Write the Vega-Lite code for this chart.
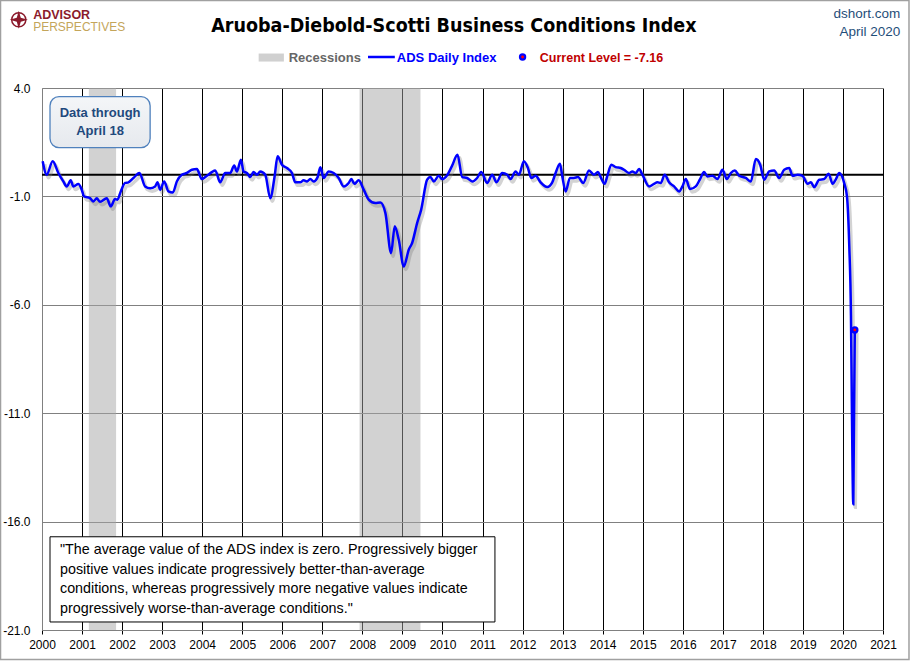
{
  "$schema": "https://vega.github.io/schema/vega-lite/v6.json",
  "width": 841,
  "height": 542,
  "autosize": "none",
  "padding": {"left": 42, "top": 88, "right": 27, "bottom": 31},
  "background": "white",
  "datasets": {
    "ads": [
      {"year": 2000.017, "value": 0.62}, {"year": 2000.117, "value": 0.0}, {"year": 2000.267, "value": 0.62},
      {"year": 2000.408, "value": 0.08}, {"year": 2000.533, "value": -0.31}, {"year": 2000.617, "value": -0.54},
      {"year": 2000.717, "value": -0.26}, {"year": 2000.783, "value": -0.54}, {"year": 2000.908, "value": -0.43},
      {"year": 2000.992, "value": -0.69}, {"year": 2001.05, "value": -1.0}, {"year": 2001.2, "value": -1.08},
      {"year": 2001.283, "value": -1.23}, {"year": 2001.367, "value": -1.09}, {"year": 2001.45, "value": -1.25},
      {"year": 2001.617, "value": -1.08}, {"year": 2001.717, "value": -1.46}, {"year": 2001.825, "value": -1.12},
      {"year": 2001.883, "value": -1.15}, {"year": 2001.967, "value": -0.77}, {"year": 2002.075, "value": -0.38},
      {"year": 2002.158, "value": -0.35}, {"year": 2002.283, "value": -0.15}, {"year": 2002.433, "value": 0.08},
      {"year": 2002.575, "value": -0.54}, {"year": 2002.7, "value": -0.62}, {"year": 2002.825, "value": -0.54},
      {"year": 2002.883, "value": -0.35}, {"year": 2002.95, "value": -0.69}, {"year": 2003.05, "value": -0.31},
      {"year": 2003.158, "value": -0.77}, {"year": 2003.267, "value": -0.82}, {"year": 2003.367, "value": -0.31},
      {"year": 2003.492, "value": 0.0}, {"year": 2003.617, "value": 0.08}, {"year": 2003.742, "value": 0.23},
      {"year": 2003.867, "value": 0.26}, {"year": 2003.992, "value": -0.2}, {"year": 2004.117, "value": -0.05},
      {"year": 2004.242, "value": 0.12}, {"year": 2004.325, "value": 0.2}, {"year": 2004.45, "value": -0.35},
      {"year": 2004.575, "value": 0.08}, {"year": 2004.7, "value": 0.08}, {"year": 2004.8, "value": 0.42},
      {"year": 2004.867, "value": 0.15}, {"year": 2004.967, "value": 0.69}, {"year": 2005.033, "value": 0.15},
      {"year": 2005.117, "value": 0.08}, {"year": 2005.2, "value": -0.11}, {"year": 2005.283, "value": 0.12},
      {"year": 2005.367, "value": 0.0}, {"year": 2005.45, "value": 0.15}, {"year": 2005.575, "value": 0.0},
      {"year": 2005.7, "value": -1.08}, {"year": 2005.808, "value": -0.08}, {"year": 2005.883, "value": 0.85},
      {"year": 2005.992, "value": 0.46}, {"year": 2006.117, "value": 0.31}, {"year": 2006.242, "value": 0.08},
      {"year": 2006.325, "value": -0.35}, {"year": 2006.45, "value": -0.35}, {"year": 2006.533, "value": -0.26},
      {"year": 2006.617, "value": -0.31}, {"year": 2006.7, "value": -0.2}, {"year": 2006.783, "value": -0.31},
      {"year": 2006.883, "value": -0.11}, {"year": 2006.95, "value": 0.35}, {"year": 2007.033, "value": -0.15},
      {"year": 2007.158, "value": 0.15}, {"year": 2007.283, "value": 0.08}, {"year": 2007.408, "value": -0.15},
      {"year": 2007.533, "value": -0.54}, {"year": 2007.658, "value": -0.38}, {"year": 2007.725, "value": -0.2},
      {"year": 2007.8, "value": -0.42}, {"year": 2007.908, "value": -0.26}, {"year": 2008.033, "value": -0.69},
      {"year": 2008.158, "value": -1.15}, {"year": 2008.325, "value": -1.31}, {"year": 2008.45, "value": -1.28},
      {"year": 2008.575, "value": -1.77}, {"year": 2008.717, "value": -3.62}, {"year": 2008.808, "value": -2.38},
      {"year": 2008.908, "value": -3.0}, {"year": 2009.033, "value": -4.23}, {"year": 2009.158, "value": -3.46},
      {"year": 2009.242, "value": -3.15}, {"year": 2009.367, "value": -2.23}, {"year": 2009.467, "value": -1.62},
      {"year": 2009.617, "value": -0.23}, {"year": 2009.7, "value": -0.11}, {"year": 2009.783, "value": -0.31},
      {"year": 2009.908, "value": -0.05}, {"year": 2009.992, "value": -0.2}, {"year": 2010.117, "value": -0.02},
      {"year": 2010.242, "value": 0.42}, {"year": 2010.375, "value": 0.92}, {"year": 2010.492, "value": -0.11},
      {"year": 2010.617, "value": -0.15}, {"year": 2010.742, "value": -0.31}, {"year": 2010.867, "value": -0.15},
      {"year": 2010.967, "value": 0.12}, {"year": 2011.117, "value": -0.38}, {"year": 2011.242, "value": 0.0},
      {"year": 2011.35, "value": -0.35}, {"year": 2011.492, "value": 0.08}, {"year": 2011.617, "value": 0.0},
      {"year": 2011.7, "value": -0.2}, {"year": 2011.825, "value": 0.15}, {"year": 2011.908, "value": 0.0},
      {"year": 2012.033, "value": 0.62}, {"year": 2012.133, "value": 0.31}, {"year": 2012.217, "value": -0.15},
      {"year": 2012.325, "value": -0.05}, {"year": 2012.45, "value": -0.35}, {"year": 2012.617, "value": -0.57},
      {"year": 2012.742, "value": -0.35}, {"year": 2012.825, "value": 0.08}, {"year": 2012.933, "value": 0.51},
      {"year": 2012.992, "value": -0.08}, {"year": 2013.075, "value": -0.77}, {"year": 2013.183, "value": -0.15},
      {"year": 2013.283, "value": -0.15}, {"year": 2013.383, "value": -0.11}, {"year": 2013.517, "value": -0.38},
      {"year": 2013.658, "value": 0.2}, {"year": 2013.783, "value": 0.0}, {"year": 2013.883, "value": 0.12},
      {"year": 2013.95, "value": -0.11}, {"year": 2014.05, "value": -0.42}, {"year": 2014.117, "value": -0.05},
      {"year": 2014.217, "value": 0.46}, {"year": 2014.325, "value": 0.35}, {"year": 2014.45, "value": 0.31},
      {"year": 2014.533, "value": 0.23}, {"year": 2014.658, "value": 0.08}, {"year": 2014.742, "value": 0.15},
      {"year": 2014.825, "value": 0.08}, {"year": 2014.908, "value": 0.26}, {"year": 2014.992, "value": 0.0},
      {"year": 2015.158, "value": -0.54}, {"year": 2015.283, "value": -0.42}, {"year": 2015.367, "value": -0.35},
      {"year": 2015.45, "value": -0.38}, {"year": 2015.55, "value": 0.0}, {"year": 2015.658, "value": -0.35},
      {"year": 2015.783, "value": -0.54}, {"year": 2015.908, "value": -0.77}, {"year": 2015.992, "value": -0.54},
      {"year": 2016.075, "value": -0.2}, {"year": 2016.183, "value": -0.66}, {"year": 2016.325, "value": -0.54},
      {"year": 2016.433, "value": -0.2}, {"year": 2016.533, "value": 0.12}, {"year": 2016.617, "value": -0.08},
      {"year": 2016.742, "value": -0.05}, {"year": 2016.867, "value": -0.2}, {"year": 2016.992, "value": 0.23},
      {"year": 2017.1, "value": -0.2}, {"year": 2017.2, "value": 0.08}, {"year": 2017.3, "value": 0.2},
      {"year": 2017.408, "value": -0.05}, {"year": 2017.575, "value": -0.15}, {"year": 2017.7, "value": -0.31},
      {"year": 2017.825, "value": 0.72}, {"year": 2017.933, "value": 0.46}, {"year": 2018.033, "value": -0.23},
      {"year": 2018.158, "value": 0.15}, {"year": 2018.283, "value": 0.2}, {"year": 2018.408, "value": -0.15},
      {"year": 2018.533, "value": 0.23}, {"year": 2018.658, "value": 0.31}, {"year": 2018.742, "value": -0.05},
      {"year": 2018.867, "value": 0.0}, {"year": 2018.992, "value": -0.05}, {"year": 2019.117, "value": -0.42},
      {"year": 2019.2, "value": -0.35}, {"year": 2019.283, "value": -0.57}, {"year": 2019.408, "value": -0.23},
      {"year": 2019.533, "value": -0.2}, {"year": 2019.642, "value": 0.05}, {"year": 2019.742, "value": -0.42},
      {"year": 2019.825, "value": -0.2}, {"year": 2019.908, "value": 0.08}, {"year": 2020.033, "value": -0.4},
      {"year": 2020.1, "value": -1.0}, {"year": 2020.158, "value": -3.3}, {"year": 2020.2, "value": -6.5},
      {"year": 2020.225, "value": -11.1}, {"year": 2020.258, "value": -15.2}, {"year": 2020.296, "value": -7.16}
    ],
    "recessions": [
      {"start": 2001.17, "end": 2001.85},
      {"start": 2007.93, "end": 2009.45}
    ],
    "one": [{}]
  },
  "layer": [
    {
      "data": {"name": "recessions"},
      "mark": {"type": "rect", "color": "#a6a6a6", "opacity": 0.5},
      "encoding": {
        "x": {
          "field": "start",
          "type": "quantitative",
          "scale": {"domain": [2000, 2021], "nice": false, "zero": false},
          "axis": {
            "values": [2000, 2001, 2002, 2003, 2004, 2005, 2006, 2007, 2008, 2009, 2010, 2011, 2012, 2013, 2014, 2015, 2016, 2017, 2018, 2019, 2020, 2021],
            "format": "d",
            "title": null,
            "grid": true,
            "gridColor": {"condition": {"test": "datum.value == 2000", "value": "#808080"}, "value": "#000000"},
            "gridOpacity": 1,
            "domainColor": "#808080",
            "tickColor": "#000000",
            "tickSize": 4,
            "labelPadding": 5,
            "labelFontSize": 12,
            "labelColor": "#000000",
            "labelFlush": false,
            "labelOverlap": false
          }
        },
        "x2": {"field": "end"}
      }
    },
    {
      "data": {"name": "one"},
      "mark": {"type": "rule", "color": "#000000", "strokeWidth": 2},
      "encoding": {
        "y": {
          "datum": 0,
          "type": "quantitative",
          "scale": {"domain": [-21, 4], "nice": false, "zero": false},
          "axis": {
            "values": [4, -1, -6, -11, -16, -21],
            "labelExpr": "replace(format(datum.value, '.1f'), '\u2212', '-')",
            "title": null,
            "grid": true,
            "gridColor": "#808080",
            "gridOpacity": 1,
            "domainColor": "#808080",
            "ticks": false,
            "labelPadding": 12,
            "labelFontSize": 12,
            "labelColor": "#000000"
          }
        }
      }
    },
    {
      "data": {"name": "ads"},
      "mark": {"type": "line", "interpolate": "monotone", "color": "#808080", "opacity": 0.35, "strokeWidth": 3.5, "xOffset": 2, "yOffset": 3},
      "encoding": {
        "x": {"field": "year", "type": "quantitative"},
        "y": {"field": "value", "type": "quantitative"}
      }
    },
    {
      "data": {"name": "ads"},
      "mark": {"type": "line", "interpolate": "monotone", "strokeWidth": 2.5, "color": "#0000ff"},
      "encoding": {
        "x": {"field": "year", "type": "quantitative"},
        "y": {"field": "value", "type": "quantitative"}
      }
    },
    {
      "data": {"name": "ads"},
      "transform": [{"filter": "datum.year > 2020.29"}],
      "mark": {"type": "point", "filled": true, "opacity": 1, "size": 55, "color": "#0000ff"},
      "encoding": {
        "x": {"field": "year", "type": "quantitative"},
        "y": {"field": "value", "type": "quantitative"}
      }
    },
    {
      "data": {"name": "ads"},
      "transform": [{"filter": "datum.year > 2020.29"}],
      "mark": {"type": "point", "filled": true, "opacity": 1, "size": 8, "color": "#ff0000"},
      "encoding": {
        "x": {"field": "year", "type": "quantitative"},
        "y": {"field": "value", "type": "quantitative"}
      }
    },
    {
      "data": {"name": "one"},
      "mark": {"type": "rect", "color": "#d0d0d0", "opacity": 1},
      "encoding": {
        "x": {"datum": 2005.41, "type": "quantitative"}, "x2": {"datum": 2006.04},
        "y": {"datum": 5.59, "type": "quantitative"}, "y2": {"datum": 5.22}
      }
    },
    {
      "data": {"name": "one"},
      "mark": {"type": "text", "align": "left", "baseline": "middle", "fontSize": 13, "fontWeight": "bold", "color": "#666666", "text": "Recessions"},
      "encoding": {
        "x": {"datum": 2006.16, "type": "quantitative"},
        "y": {"datum": 5.40, "type": "quantitative"}
      }
    },
    {
      "data": {"name": "one"},
      "mark": {"type": "rule", "color": "#0000ff", "strokeWidth": 2.5},
      "encoding": {
        "x": {"datum": 2008.14, "type": "quantitative"}, "x2": {"datum": 2008.81},
        "y": {"datum": 5.43, "type": "quantitative"}
      }
    },
    {
      "data": {"name": "one"},
      "mark": {"type": "text", "align": "left", "baseline": "middle", "fontSize": 13, "fontWeight": "bold", "color": "#0000ff", "text": "ADS Daily Index"},
      "encoding": {
        "x": {"datum": 2008.86, "type": "quantitative"},
        "y": {"datum": 5.40, "type": "quantitative"}
      }
    },
    {
      "data": {"name": "one"},
      "mark": {"type": "point", "filled": true, "opacity": 1, "size": 55, "color": "#0000ff"},
      "encoding": {
        "x": {"datum": 2012.0, "type": "quantitative"},
        "y": {"datum": 5.43, "type": "quantitative"}
      }
    },
    {
      "data": {"name": "one"},
      "mark": {"type": "point", "filled": true, "opacity": 1, "size": 8, "color": "#ff0000"},
      "encoding": {
        "x": {"datum": 2012.0, "type": "quantitative"},
        "y": {"datum": 5.43, "type": "quantitative"}
      }
    },
    {
      "data": {"name": "one"},
      "mark": {"type": "text", "align": "left", "baseline": "middle", "fontSize": 12.5, "fontWeight": "bold", "color": "#c00000", "text": "Current Level =  -7.16"},
      "encoding": {
        "x": {"datum": 2012.43, "type": "quantitative"},
        "y": {"datum": 5.40, "type": "quantitative"}
      }
    },
    {
      "data": {"name": "one"},
      "mark": {"type": "rect", "cornerRadius": 9, "color": "#808080", "opacity": 0.35, "xOffset": 3, "yOffset": 3},
      "encoding": {
        "x": {"datum": 2000.2, "type": "quantitative"}, "x2": {"datum": 2002.7},
        "y": {"datum": 3.6, "type": "quantitative"}, "y2": {"datum": 1.25}
      }
    },
    {
      "data": {"name": "one"},
      "mark": {
        "type": "rect",
        "cornerRadius": 9,
        "stroke": "#4f81bd",
        "strokeWidth": 1.3,
        "opacity": 1,
        "fill": {
          "gradient": "linear", "x1": 0, "y1": 0, "x2": 0, "y2": 1,
          "stops": [{"offset": 0, "color": "#f4f6f8"}, {"offset": 1, "color": "#e6e9ee"}]
        }
      },
      "encoding": {
        "x": {"datum": 2000.2, "type": "quantitative"}, "x2": {"datum": 2002.7},
        "y": {"datum": 3.6, "type": "quantitative"}, "y2": {"datum": 1.25}
      }
    },
    {
      "data": {"name": "one"},
      "mark": {"type": "text", "align": "center", "baseline": "middle", "fontSize": 13, "fontWeight": "bold", "color": "#1f497d", "lineHeight": 18, "text": ["Data through", "April 18"]},
      "encoding": {
        "x": {"datum": 2001.45, "type": "quantitative"},
        "y": {"datum": 2.86, "type": "quantitative"}
      }
    },
    {
      "data": {"name": "one"},
      "mark": {"type": "rect", "color": "#808080", "opacity": 0.35, "xOffset": 3, "yOffset": 3},
      "encoding": {
        "x": {"datum": 2000.2, "type": "quantitative"}, "x2": {"datum": 2011.31},
        "y": {"datum": -16.7, "type": "quantitative"}, "y2": {"datum": -20.63}
      }
    },
    {
      "data": {"name": "one"},
      "mark": {"type": "rect", "fill": "#ffffff", "stroke": "#000000", "strokeWidth": 1, "opacity": 1},
      "encoding": {
        "x": {"datum": 2000.2, "type": "quantitative"}, "x2": {"datum": 2011.31},
        "y": {"datum": -16.7, "type": "quantitative"}, "y2": {"datum": -20.63}
      }
    },
    {
      "data": {"name": "one"},
      "mark": {
        "type": "text", "align": "left", "baseline": "middle", "fontSize": 14.3, "color": "#000000", "lineHeight": 19.5,
        "text": [
          "\"The average value of the ADS index is zero.  Progressively bigger",
          "positive values indicate progressively better-than-average",
          "conditions, whereas progressively more  negative values indicate",
          "progressively worse-than-average  conditions.\""
        ]
      },
      "encoding": {
        "x": {"datum": 2000.45, "type": "quantitative"},
        "y": {"datum": -17.31, "type": "quantitative"}
      }
    },
    {
      "data": {"name": "one"},
      "mark": {"type": "text", "align": "center", "baseline": "middle", "fontSize": 19.5, "fontWeight": "bold", "font": "DejaVu Sans Condensed, Liberation Sans, sans-serif", "color": "#000000", "text": "Aruoba-Diebold-Scotti Business Conditions Index"},
      "encoding": {
        "x": {"datum": 2010.285, "type": "quantitative"},
        "y": {"datum": 6.85, "type": "quantitative"}
      }
    },
    {
      "data": {"name": "one"},
      "mark": {"type": "text", "align": "right", "baseline": "middle", "fontSize": 13.5, "color": "#1f4e79", "lineHeight": 18, "text": ["dshort.com", "April 2020"]},
      "encoding": {
        "x": {"datum": 2021.43, "type": "quantitative"},
        "y": {"datum": 7.41, "type": "quantitative"}
      }
    },
    {
      "data": {"name": "one"},
      "mark": {"type": "point", "shape": "circle", "size": 200, "filled": false, "stroke": "#8b1a2b", "strokeWidth": 1.5, "opacity": 1},
      "encoding": {
        "x": {"datum": 1999.42, "type": "quantitative"},
        "y": {"datum": 7.15, "type": "quantitative"}
      }
    },
    {
      "data": {"name": "one"},
      "mark": {"type": "point", "shape": "M0,-1L0.22,-0.22L1,0L0.22,0.22L0,1L-0.22,0.22L-1,0L-0.22,-0.22Z", "size": 330, "filled": true, "color": "#8b1a2b", "opacity": 1},
      "encoding": {
        "x": {"datum": 1999.42, "type": "quantitative"},
        "y": {"datum": 7.15, "type": "quantitative"}
      }
    },
    {
      "data": {"name": "one"},
      "mark": {"type": "text", "align": "left", "baseline": "middle", "fontSize": 12.5, "fontWeight": "bold", "color": "#8b1a2b", "text": "ADVISOR"},
      "encoding": {
        "x": {"datum": 1999.78, "type": "quantitative"},
        "y": {"datum": 7.39, "type": "quantitative"}
      }
    },
    {
      "data": {"name": "one"},
      "mark": {"type": "text", "align": "left", "baseline": "middle", "fontSize": 12, "color": "#c4a55a", "text": "PERSPECTIVES"},
      "encoding": {
        "x": {"datum": 1999.78, "type": "quantitative"},
        "y": {"datum": 6.8, "type": "quantitative"}
      }
    },
    {
      "data": {"name": "one"},
      "mark": {"type": "rect", "fill": null, "stroke": "#a0a0a0", "strokeWidth": 1.5, "opacity": 1},
      "encoding": {
        "x": {"datum": 1998.964, "type": "quantitative"}, "x2": {"datum": 2021.649},
        "y": {"datum": 8.036, "type": "quantitative"}, "y2": {"datum": -22.36}
      }
    }
  ],
  "config": {
    "font": "Liberation Sans, sans-serif",
    "view": {"stroke": null}
  }
}
